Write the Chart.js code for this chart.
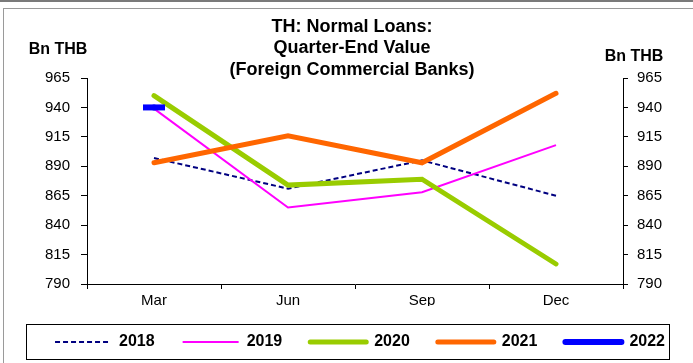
<!DOCTYPE html>
<html>
<head>
<meta charset="utf-8">
<script src="https://cdn.jsdelivr.net/npm/chart.js@4"></script>
<style>
  html, body { margin: 0; padding: 0; background: #fff; }
  #wrap { position: relative; width: 693px; height: 363px; overflow: hidden; }
  #topline { position: absolute; left: 0; top: 0; width: 693px; height: 2px; background: #7a7a7a; }
  #frame { position: absolute; left: 3px; top: 8px; width: 700px; height: 400px; border: 1px solid #9a9a9a; }
  canvas { position: absolute; left: 0; top: 0; }
</style>
</head>
<body>
<div id="wrap">
  <div id="topline"></div>
  <div id="frame"></div>
  <canvas id="c" width="693" height="363"></canvas>
</div>
<script>
const categories = ['Mar', 'Jun', 'Sep', 'Dec'];
const s2018 = [897, 871, 895, 865];
const s2019 = [939, 855, 868, 908];
const s2020 = [950, 874, 879, 807];
const s2021 = [893, 916, 893, 952];
const s2022 = [940, null, null, null];
const seriesLabels = ['2018', '2019', '2020', '2021', '2022'];
const yMin = 790, yMax = 965, yStep = 25;
const titleLines = ['TH: Normal Loans:', 'Quarter-End Value', '(Foreign Commercial Banks)'];
const unitLabel = 'Bn THB';

const FONT = '"Liberation Sans", Arial, sans-serif';

const datasets = [
  { label: seriesLabels[0], data: s2018, borderColor: '#000080', borderWidth: 2, borderDash: [5, 3], order: 5 },
  { label: seriesLabels[1], data: s2019, borderColor: '#FF00FF', borderWidth: 2, order: 4 },
  { label: seriesLabels[2], data: s2020, borderColor: '#99CC00', borderWidth: 5, borderCapStyle: 'round', order: 3 },
  { label: seriesLabels[3], data: s2021, borderColor: '#FF6600', borderWidth: 5, borderCapStyle: 'round', order: 2 },
  { label: seriesLabels[4], data: s2022, borderColor: '#0000FF', borderWidth: 6, borderCapStyle: 'round', order: 1,
    pointStyle: 'line', pointRadius: 11, pointBorderWidth: 6, pointBorderColor: '#0000FF', pointBackgroundColor: '#0000FF' }
].map(d => Object.assign({ fill: false, tension: 0, pointRadius: 0, backgroundColor: d.borderColor }, d));

const decor = {
  id: 'decor',
  afterDraw(chart) {
    const ctx = chart.ctx;
    ctx.save();
    ctx.fillStyle = '#000';
    ctx.textAlign = 'center';
    ctx.textBaseline = 'middle';
    ctx.font = 'bold 18px ' + FONT;
    titleLines.forEach((t, i) => ctx.fillText(t, 352, 27 + i * 21.5));
    ctx.font = 'bold 16px ' + FONT;
    ctx.fillText(unitLabel, 58, 50);
    ctx.fillText(unitLabel, 634, 57);
    const hb = chart.legend.legendHitBoxes[0];
    const cy = hb.top + hb.height / 2;
    ctx.strokeStyle = '#000';
    ctx.lineWidth = 1;
    ctx.strokeRect(26.5, Math.round(cy - 18) + 0.5, 643, 35);
    ctx.restore();
  }
};

const yAxisCommon = {
  min: yMin, max: yMax,
  ticks: { stepSize: yStep, color: '#000', font: { family: FONT, size: 15 } },
  grid: { drawOnChartArea: false, color: '#000', tickLength: 6 },
  border: { color: '#000', width: 1 }
};

new Chart(document.getElementById('c'), {
  type: 'line',
  data: { labels: categories, datasets },
  options: {
    responsive: false,
    animation: false,
    devicePixelRatio: 1,
    layout: { padding: { top: 78, left: 0, right: 0, bottom: 3 } },
    scales: {
      x: {
        type: 'category', offset: true,
        grid: { offset: true, drawOnChartArea: false, color: '#000', tickLength: 5 },
        border: { color: '#000', width: 1 },
        ticks: { color: '#000', font: { family: FONT, size: 15 }, padding: 3, maxRotation: 0 },
        afterFit(s) { s.height = 22; }
      },
      y: Object.assign({}, yAxisCommon, {
        position: 'left',
        ticks: Object.assign({}, yAxisCommon.ticks, { padding: 11 }),
        afterFit(s) { s.width = 87; }
      }),
      y2: Object.assign({}, yAxisCommon, {
        position: 'right',
        grid: Object.assign({}, yAxisCommon.grid, { tickLength: 5 }),
        ticks: Object.assign({}, yAxisCommon.ticks, { padding: 9 }),
        afterFit(s) { s.width = 70; }
      })
    },
    plugins: {
      title: { display: false },
      tooltip: { enabled: false },
      legend: {
        position: 'bottom',
        align: 'end',
        labels: {
          usePointStyle: true,
          pointStyleWidth: 56,
          boxHeight: 16,
          padding: 28,
          color: '#000',
          font: { family: FONT, size: 16, weight: 'bold' },
          generateLabels(chart) {
            return chart.data.datasets.map((d, i) => ({
              text: d.label,
              fillStyle: d.borderColor,
              strokeStyle: d.borderColor,
              lineWidth: d.borderWidth,
              lineDash: d.borderDash || [],
              lineCap: d.borderCapStyle || 'butt',
              pointStyle: 'line',
              rotation: 0,
              hidden: false,
              datasetIndex: i
            }));
          }
        }
      }
    }
  },
  plugins: [decor]
});
</script>
</body>
</html>
